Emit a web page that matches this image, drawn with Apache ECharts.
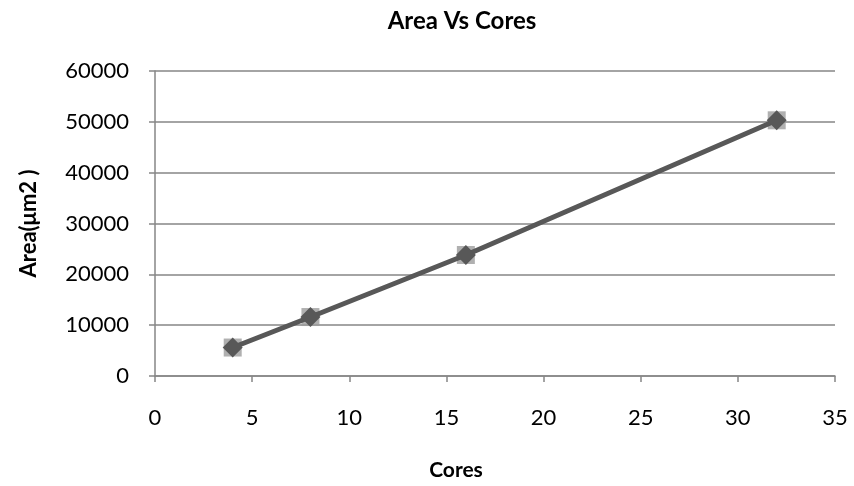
<!DOCTYPE html>
<html>
<head>
<meta charset="utf-8">
<script src="https://cdn.jsdelivr.net/npm/echarts@6/dist/echarts.min.js"></script>
<style>
  html, body { margin: 0; padding: 0; background: #fff; }
  #chart { width: 854px; height: 486px; }
</style>
</head>
<body>
<div id="chart"></div>
<script>
// Chip area as the number of cores grows
const cores = [4, 8, 16, 32];
const area = [5600, 11600, 23800, 50300];
const xTicks = [0, 5, 10, 15, 20, 25, 30, 35];
const yTicks = [0, 10000, 20000, 30000, 40000, 50000, 60000];

const points = cores.map((c, i) => [c, area[i]]);
const font = 'Lato, "Open Sans", sans-serif';

const chart = echarts.init(document.getElementById('chart'));
chart.setOption({
  animation: false,
  title: {
    text: 'Area Vs Cores',
    left: 457, top: 4, textAlign: 'center',
    textStyle: { fontFamily: font, fontSize: 24, fontWeight: 'bold', color: '#000' }
  },
  grid: { left: 155, right: 19, top: 71, bottom: 110 },
  xAxis: {
    type: 'value',
    min: xTicks[0], max: xTicks[xTicks.length - 1], interval: 5,
    name: 'Cores', nameLocation: 'middle', nameGap: 84,
    nameTextStyle: {
      fontFamily: font, fontSize: 21, fontWeight: 'bold', color: '#000',
      padding: [0, 78, 0, 0]
    },
    axisLine: { lineStyle: { color: '#868686', width: 1.5 } },
    axisTick: { show: true, length: 6, lineStyle: { color: '#868686', width: 1.5 } },
    axisLabel: { fontFamily: font, fontSize: 22, color: '#000', margin: 31 },
    splitLine: { show: false }
  },
  yAxis: {
    type: 'value',
    min: yTicks[0], max: yTicks[yTicks.length - 1], interval: 10000,
    name: 'Area(μm2 )', nameLocation: 'middle', nameGap: 115, nameRotate: 90,
    nameTextStyle: { fontFamily: font, fontSize: 22, fontWeight: 'bold', color: '#000' },
    axisLine: { show: true, lineStyle: { color: '#868686', width: 1.5 } },
    axisTick: { show: true, length: 6, lineStyle: { color: '#868686', width: 1.5 } },
    axisLabel: {
      fontFamily: font, fontSize: 22, color: '#000', margin: 26,
      formatter: v => String(v)
    },
    splitLine: { lineStyle: { color: '#868686', width: 1.5 } }
  },
  series: [
    {
      type: 'scatter',
      data: points,
      symbol: 'rect',
      symbolSize: 18,
      itemStyle: { color: '#9c9c9c' },
      z: 2
    },
    {
      type: 'line',
      data: points,
      symbol: 'diamond',
      symbolSize: 20,
      showSymbol: true,
      lineStyle: { color: '#585858', width: 5 },
      itemStyle: { color: '#585858', borderWidth: 0 },
      z: 3
    }
  ]
});
</script>
</body>
</html>
